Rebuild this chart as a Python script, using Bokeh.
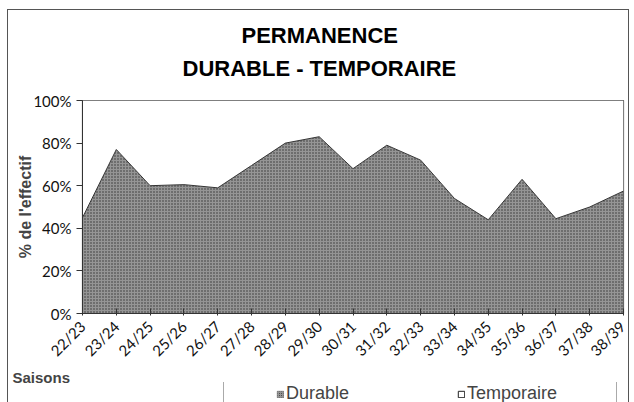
from bokeh.plotting import figure
from bokeh.models import (ColumnDataSource, FixedTicker, NumeralTickFormatter, Legend,
                          LegendItem, Title, Range1d)
from bokeh.layouts import column
from bokeh.embed import file_html
from bokeh.resources import INLINE
import math

seasons = ["22/23", "23/24", "24/25", "25/26", "26/27", "27/28", "28/29", "29/30", "30/31",
           "31/32", "32/33", "33/34", "34/35", "35/36", "36/37", "37/38", "38/39"]
durable = [45, 77, 60, 60.5, 59, 69.5, 80, 83, 68, 79, 72, 54, 44, 63, 44.5, 50, 57.5]
temporaire = [100 - d for d in durable]
y_ticks = [0, 0.2, 0.4, 0.6, 0.8, 1.0]
series = ["Durable", "Temporaire"]

DUR_FILL, TMP_FILL = "#959595", "#ffffff"

idx = list(range(len(seasons)))
src = ColumnDataSource(dict(x=idx,
                            Durable=[d / 100 for d in durable],
                            Temporaire=[t / 100 for t in temporaire]))

p = figure(frame_width=541, frame_height=213, output_backend="svg", toolbar_location=None,
           x_range=Range1d(0, len(seasons) - 1), y_range=Range1d(0, 1),
           min_border_left=74, min_border_top=90, min_border_right=5, min_border_bottom=56)

r = p.varea_stack(series, x="x", source=src,
                  fill_color=[DUR_FILL, TMP_FILL],
                  hatch_pattern=["dot", "blank"], hatch_color="#333333",
                  hatch_scale=3, hatch_weight=1)
p.line("x", "Durable", source=src, line_color="#333333", line_width=1)

p.xgrid.visible = False
p.ygrid.visible = False
p.outline_line_color = "#555555"
p.outline_line_width = 1.2

p.xaxis.ticker = FixedTicker(ticks=idx)
p.xaxis.major_label_overrides = {i: s for i, s in zip(idx, seasons)}
p.xaxis.major_label_orientation = math.pi / 4
p.xaxis.major_label_standoff = 8
p.yaxis.ticker = FixedTicker(ticks=y_ticks)
p.yaxis.formatter = NumeralTickFormatter(format="0%")
p.yaxis.axis_label = "% de l'effectif"
p.yaxis.axis_label_text_font = "Liberation Sans"
p.yaxis.axis_label_text_font_style = "bold"
p.yaxis.axis_label_text_font_size = "16px"
p.yaxis.axis_label_standoff = -4
for ax in (p.xaxis[0], p.yaxis[0]):
    ax.major_label_text_font = "Lato"
    ax.major_label_text_font_size = "15px"
    ax.major_label_text_color = "#111111"
    ax.axis_line_color = "#333333"
    ax.major_tick_line_color = "#333333"
    ax.minor_tick_line_color = None
p.yaxis.major_tick_in = 0
p.yaxis.major_tick_out = 6
p.xaxis.major_tick_in = 5
p.xaxis.major_tick_out = 2

p.title.visible = False
title_kw = dict(text_font="Liberation Sans", text_font_style="bold", text_font_size="22px",
                text_color="#000000", align="left")
p.add_layout(Title(text="DURABLE - TEMPORAIRE", offset=100, standoff=40, **title_kw), "above")
p.add_layout(Title(text="PERMANENCE", offset=159, standoff=-28, **title_kw), "above")

# bottom strip: "Saisons" and the legend
BW, BH = 620, 33
q = figure(width=BW, height=BH, output_backend="svg", toolbar_location=None,
           x_axis_location=None, y_axis_location=None,
           x_range=Range1d(0, len(seasons) - 1), y_range=Range1d(2, 3),
           min_border_left=0, min_border_right=0, min_border_top=0, min_border_bottom=0)
q.grid.visible = False
q.outline_line_color = None
# zero-size twins of the series (outside the strip's range), used only for the legend swatches
l_dur = q.quad(left="x", right="x", bottom="Durable", top="Durable", source=src,
               fill_color=DUR_FILL, hatch_pattern="dot", hatch_color="#333333",
               hatch_scale=2, hatch_weight=1, line_color="#777777", line_width=0.8)
l_tmp = q.quad(left="x", right="x", bottom="Durable", top="Durable", source=src,
               fill_color=TMP_FILL, line_color="#222222", line_width=1)

q.add_layout(Title(text="Saisons", align="left", offset=-70, standoff=-6,
                   text_font="Liberation Sans", text_font_style="bold",
                   text_font_size="15px"), "above")

legend = Legend(items=[LegendItem(label=series[0], renderers=[l_dur]),
                       LegendItem(label=series[1], renderers=[l_tmp])],
                orientation="horizontal", location=(141, -4), margin=0,
                title=" ", title_location="left", title_standoff=50,
                title_text_font_size="1px",
                label_text_font="Liberation Sans", label_text_font_size="18px",
                glyph_width=8, glyph_height=8, label_standoff=2, spacing=23,
                label_width=148, padding=1,
                border_line_color="#555555", border_line_width=1.2,
                background_fill_alpha=1)
q.add_layout(legend, "center")

layout = column(p, q, spacing=0,
                styles={"margin-left": "8px", "margin-top": "10px",
                        "outline": "1.5px solid #555555"})

open("out.html", "w").write(file_html(layout, INLINE))
